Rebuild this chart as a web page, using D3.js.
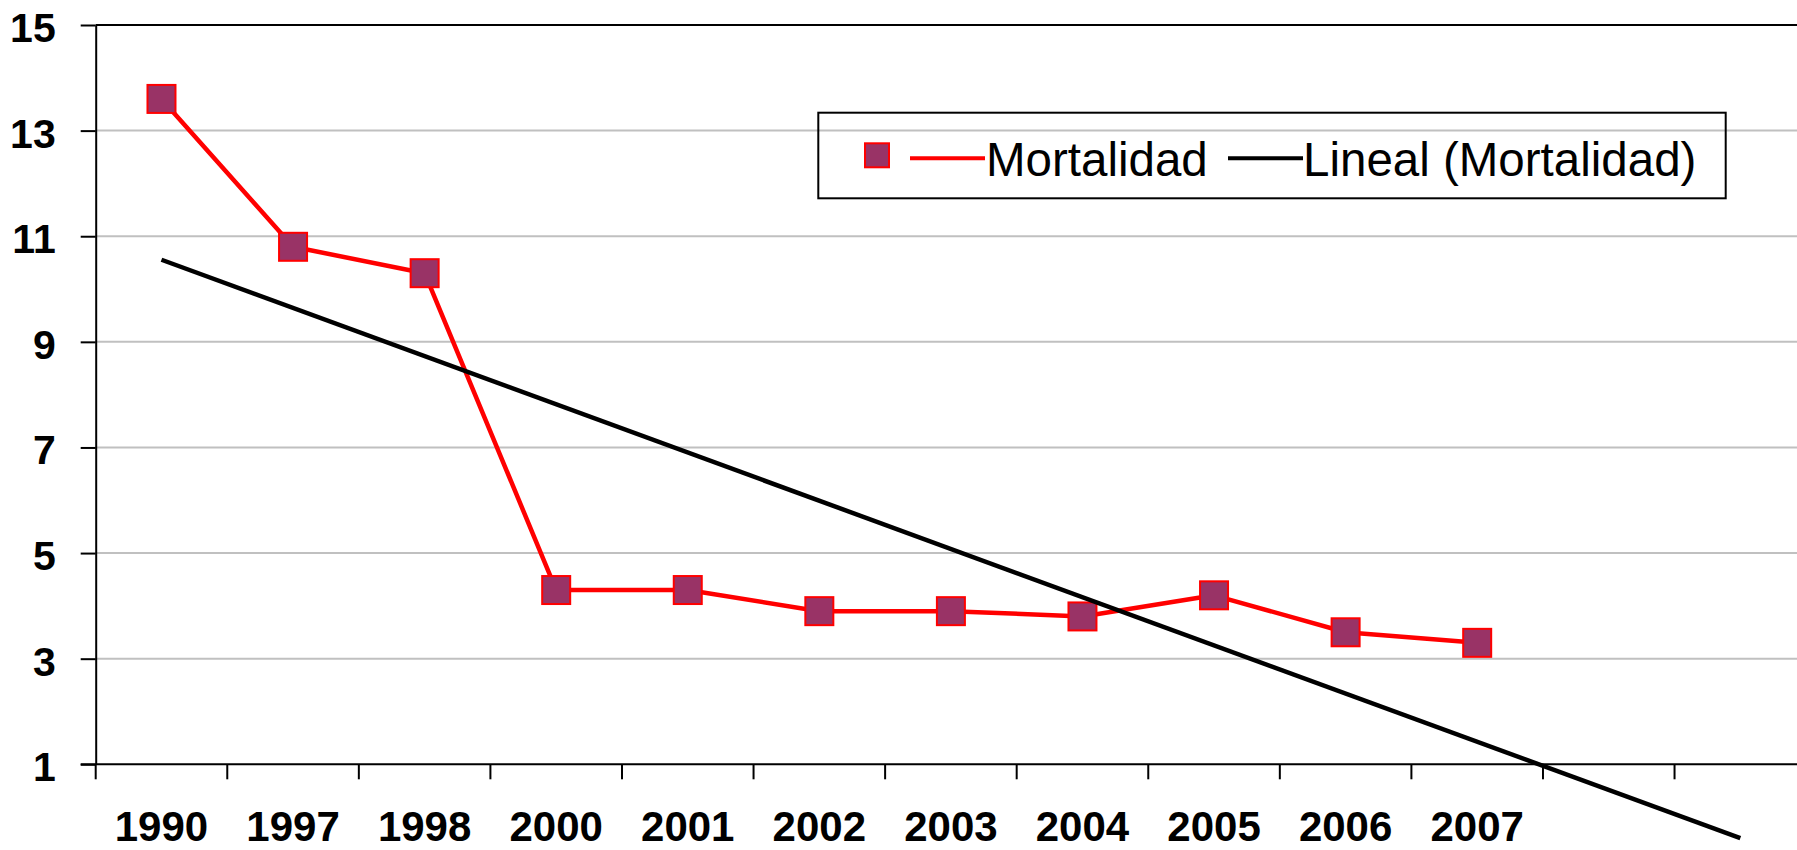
<!DOCTYPE html>
<html>
<head>
<meta charset="utf-8">
<script src="https://cdn.jsdelivr.net/npm/d3@7"></script>
<style>
  body { margin: 0; background: #fff; }
  text { font-family: "Liberation Sans", Arial, sans-serif; }
</style>
</head>
<body>
<svg width="1797" height="850"></svg>
<script>
"use strict";

const years = ['1990', '1997', '1998', '2000', '2001', '2002', '2003', '2004', '2005', '2006', '2007']
const mortalidad = [13.6, 10.8, 10.3, 4.3, 4.3, 3.9, 3.9, 3.8, 4.2, 3.5, 3.3]
const yTicks = [1, 3, 5, 7, 9, 11, 13, 15]
const forecast = 2 // trend projected 2 periods ahead
const seriesName = 'Mortalidad'
const trendName = 'Lineal (Mortalidad)'

;(function() {
	const W = 1797, H = 850
	const svg = d3.select('svg')
	const nCat = years.length + forecast
	const bw = 131.57
	const left = 95.7

	const x = d3.scaleBand().domain(d3.range(nCat)).range([left, left + nCat * bw])
	const y = d3.scaleLinear().domain([1, 15]).range([764.3, 25])
	const cx = i => x(i) + x.bandwidth() / 2

	// least squares trend line on x = 1..n
	const xs = mortalidad.map((d, i) => i + 1)
	const mx = d3.mean(xs), my = d3.mean(mortalidad)
	const slope = d3.sum(xs, (v, i) => (v - mx) * (mortalidad[i] - my)) / d3.sum(xs, v => (v - mx) * (v - mx))
	const icpt = my - slope * mx
	const trend = [0, nCat - 1].map(i => [i, icpt + slope * (i + 1)])

	// grid
	svg.append('g').selectAll('line')
		.data(yTicks.filter(t => t > 1 && t < 15))
		.enter().append('line')
		.attr('x1', left).attr('x2', W)
		.attr('y1', d => y(d)).attr('y2', d => y(d))
		.attr('stroke', '#c0c0c0').attr('stroke-width', 2)

	// top border
	svg.append('line')
		.attr('x1', left).attr('x2', W).attr('y1', y(15)).attr('y2', y(15))
		.attr('stroke', '#000').attr('stroke-width', 2)

	// y axis
	const yAxis = svg.append('g')
		.attr('transform', `translate(${left},0)`)
		.call(d3.axisLeft(y).tickValues(yTicks).tickSize(15).tickSizeOuter(0).tickPadding(25))
	yAxis.select('.domain').attr('stroke', '#000').attr('stroke-width', 2)
	yAxis.selectAll('.tick line').attr('stroke', '#000').attr('stroke-width', 2)
	yAxis.selectAll('.tick text')
		.attr('dy', '0.4em')
		.style('font-size', '41px').style('font-weight', 'bold').attr('fill', '#000')

	// x axis
	svg.append('line')
		.attr('x1', left - 15).attr('x2', W).attr('y1', y(1)).attr('y2', y(1))
		.attr('stroke', '#000').attr('stroke-width', 2)
	svg.append('g').selectAll('line')
		.data(d3.range(nCat))
		.enter().append('line')
		.attr('x1', d => x(d)).attr('x2', d => x(d))
		.attr('y1', y(1)).attr('y2', y(1) + 15)
		.attr('stroke', '#000').attr('stroke-width', 2)
	svg.append('g').selectAll('text')
		.data(years)
		.enter().append('text')
		.attr('x', (d, i) => cx(i))
		.attr('y', y(1) + 77)
		.attr('text-anchor', 'middle')
		.style('font-size', '42px').style('font-weight', 'bold')
		.text(d => d)

	// series
	const line = d3.line().x((d, i) => cx(i)).y(d => y(d))
	svg.append('path')
		.datum(mortalidad)
		.attr('d', line)
		.attr('fill', 'none').attr('stroke', '#ff0000').attr('stroke-width', 4.5)
		.attr('stroke-linejoin', 'round')
	const ms = 28
	svg.append('g').selectAll('rect')
		.data(mortalidad)
		.enter().append('rect')
		.attr('x', (d, i) => cx(i) - ms / 2)
		.attr('y', d => y(d) - ms / 2)
		.attr('width', ms).attr('height', ms)
		.attr('fill', '#993366').attr('stroke', '#ff0000').attr('stroke-width', 2)

	// trend
	svg.append('path')
		.datum(trend)
		.attr('d', d3.line().x(d => cx(d[0])).y(d => y(d[1])))
		.attr('fill', 'none').attr('stroke', '#000').attr('stroke-width', 4.5)

	// legend
	const lg = svg.append('g')
	lg.append('rect')
		.attr('x', 818.3).attr('y', 112.7).attr('width', 907.4).attr('height', 85.6)
		.attr('fill', 'none').attr('stroke', '#000').attr('stroke-width', 2)
	lg.append('rect')
		.attr('x', 865).attr('y', 143.3).attr('width', 24).attr('height', 24)
		.attr('fill', '#993366').attr('stroke', '#ff0000').attr('stroke-width', 2)
	lg.append('line')
		.attr('x1', 910).attr('x2', 985).attr('y1', 158.3).attr('y2', 158.3)
		.attr('stroke', '#ff0000').attr('stroke-width', 4)
	lg.append('text')
		.attr('x', 986).attr('y', 176)
		.style('font-size', '47.5px')
		.text(seriesName)
	lg.append('line')
		.attr('x1', 1228).attr('x2', 1303).attr('y1', 158.3).attr('y2', 158.3)
		.attr('stroke', '#000').attr('stroke-width', 4)
	lg.append('text')
		.attr('x', 1303).attr('y', 176)
		.style('font-size', '47.5px')
		.text(trendName)
})()
</script>
</body>
</html>
